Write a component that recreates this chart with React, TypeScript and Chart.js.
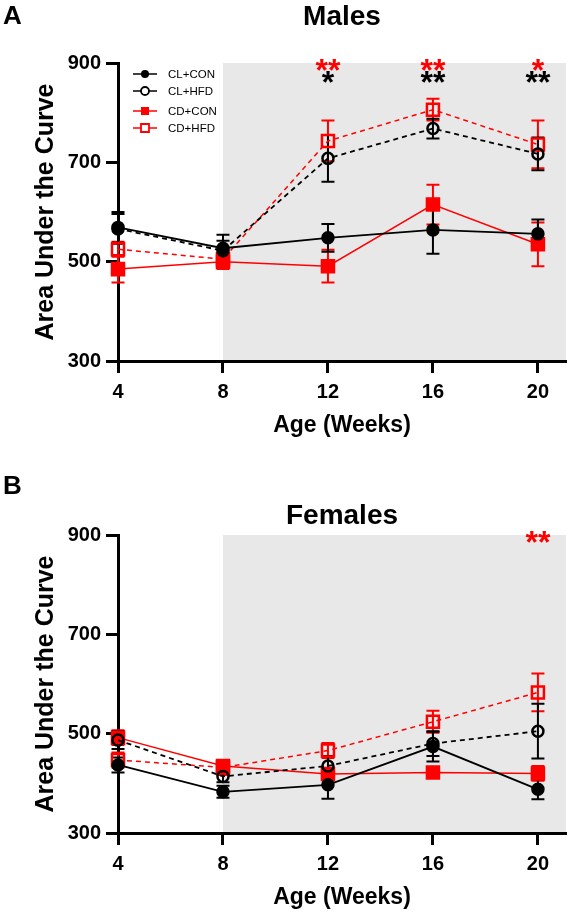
import React, { useEffect, useRef } from "react";
import { Chart, registerables } from "chart.js";

Chart.register(...registerables);

// ---------- data ----------
const weeks = [4, 8, 12, 16, 20];
const xTicks = [4, 8, 12, 16, 20];
const yTicks = [300, 500, 700, 900];
const shadeFromWeek = 8;

const seriesNames = ["CL+CON", "CL+HFD", "CD+CON", "CD+HFD"];
const seriesColors = ["#000000", "#000000", "#ff0000", "#ff0000"];
const seriesFilled = [true, false, true, false];
const seriesDashed = [false, true, false, true];
const seriesShape = ["circle", "circle", "rect", "rect"];

// Males (panel A)
const malesCLCON = [569, 527, 548, 564, 556];
const malesCLCONErr = [31, 27, 28, 48, 29];
const malesCLHFD = [566, 522, 708, 768, 717];
const malesCLHFDErr = [30, 20, 47, 20, 33];
const malesCDCON = [485, 500, 491, 615, 535];
const malesCDCONErr = [27, 15, 33, 40, 44];
const malesCDHFD = [525, 505, 743, 806, 736];
const malesCDHFDErr = [15, 12, 41, 22, 48];

// Females (panel B)
const femalesCLCON = [437, 383, 397, 474, 388];
const femalesCLCONErr = [15, 12, 28, 30, 20];
const femalesCLHFD = [487, 414, 435, 480, 505];
const femalesCLHFDErr = [18, 12, 20, 25, 55];
const femalesCDCON = [492, 435, 419, 422, 420];
const femalesCDCONErr = [15, 12, 10, 8, 15];
const femalesCDHFD = [447, 432, 466, 524, 583];
const femalesCDHFDErr = [15, 15, 15, 22, 38];

// significance marks
const malesStarWeeks = [12, 16, 20];
const malesStarsRed = ["**", "**", "*"];
const malesStarsBlack = ["*", "**", "**"];
const femalesStarWeeks = [20];
const femalesStarsRed = ["**"];
const femalesStarsBlack = [""];

const FONT = '"Liberation Sans", Arial, Helvetica, sans-serif';
const SHADE = "#e8e8e8";

type PanelProps = {
  letter: string;
  title: string;
  means: number[][];
  errs: number[][];
  starWeeks: number[];
  starsRed: string[];
  starsBlack: string[];
  legend: boolean;
  height: number;
  areaTop: number;
  areaBottom: number;
  letterBaseline: number;
  titleBaseline: number;
};

function Panel(p: PanelProps) {
  const ref = useRef<HTMLCanvasElement | null>(null);

  useEffect(() => {
    if (!ref.current) return;
    const H = p.height;

    const plugin = {
      id: "panelDecor",
      beforeDraw(chart: any) {
        const { ctx, chartArea: a, scales } = chart;
        const x0 = scales.x.getPixelForValue(shadeFromWeek);
        ctx.save();
        ctx.fillStyle = SHADE;
        ctx.fillRect(x0, a.top, a.right - x0, a.bottom - a.top);
        ctx.restore();
      },
      beforeDatasetsDraw(chart: any) {
        const { ctx, scales } = chart;
        const xs = scales.x;
        const ys = scales.y;
        ctx.save();
        for (let s = p.means.length - 1; s >= 0; s--) {
          ctx.strokeStyle = seriesColors[s];
          ctx.lineWidth = 2;
          ctx.setLineDash([]);
          weeks.forEach((w, i) => {
            const px = xs.getPixelForValue(w);
            const top = ys.getPixelForValue(p.means[s][i] + p.errs[s][i]);
            const bot = ys.getPixelForValue(p.means[s][i] - p.errs[s][i]);
            ctx.beginPath();
            ctx.moveTo(px, top);
            ctx.lineTo(px, bot);
            ctx.moveTo(px - 6.5, top);
            ctx.lineTo(px + 6.5, top);
            ctx.moveTo(px - 6.5, bot);
            ctx.lineTo(px + 6.5, bot);
            ctx.stroke();
          });
        }
        ctx.restore();
      },
      afterDraw(chart: any) {
        const { ctx, chartArea: a, scales } = chart;
        const xs = scales.x;
        const cx = (a.left + a.right) / 2;
        ctx.save();
        ctx.fillStyle = "#000";
        // panel letter
        ctx.font = `bold 26px ${FONT}`;
        ctx.textAlign = "left";
        ctx.textBaseline = "alphabetic";
        ctx.fillText(p.letter, 3, p.letterBaseline);
        // title
        ctx.font = `bold 28px ${FONT}`;
        ctx.textAlign = "center";
        ctx.fillText(p.title, cx, p.titleBaseline);
        // x title
        ctx.font = `bold 23px ${FONT}`;
        ctx.fillText("Age (Weeks)", cx, a.bottom + 71);
        // y title
        ctx.save();
        ctx.translate(53, (a.top + a.bottom) / 2);
        ctx.rotate(-Math.PI / 2);
        ctx.font = `bold 25px ${FONT}`;
        ctx.textAlign = "center";
        ctx.textBaseline = "alphabetic";
        ctx.fillText("Area Under the Curve", 0, 0);
        ctx.restore();
        // stars
        ctx.font = `bold 32px ${FONT}`;
        ctx.textAlign = "center";
        ctx.textBaseline = "alphabetic";
        p.starWeeks.forEach((w, i) => {
          const px = xs.getPixelForValue(w);
          ctx.fillStyle = "#000";
          if (p.starsBlack[i]) ctx.fillText(p.starsBlack[i], px, a.top + 30);
          ctx.fillStyle = "#ff0000";
          if (p.starsRed[i]) ctx.fillText(p.starsRed[i], px, a.top + 18);
        });
        // legend
        if (p.legend) {
          const rows = [11, 28, 48, 65];
          seriesNames.forEach((name, i) => {
            const y = a.top + rows[i];
            const col = seriesColors[i];
            ctx.strokeStyle = col;
            ctx.fillStyle = col;
            ctx.lineWidth = 1.5;
            ctx.setLineDash([]);
            ctx.beginPath();
            ctx.moveTo(133, y);
            ctx.lineTo(157, y);
            ctx.stroke();
            ctx.lineWidth = 1.8;
            ctx.beginPath();
            if (seriesShape[i] === "circle") {
              ctx.arc(145, y, 4, 0, Math.PI * 2);
            } else {
              ctx.rect(141, y - 4, 8, 8);
            }
            if (seriesFilled[i]) {
              ctx.fill();
            } else {
              ctx.fillStyle = "#fff";
              ctx.fill();
              ctx.stroke();
            }
            ctx.fillStyle = "#000";
            ctx.font = `11.5px ${FONT}`;
            ctx.textAlign = "left";
            ctx.textBaseline = "middle";
            ctx.fillText(name, 168, y + 1);
          });
        }
        ctx.restore();
      },
    };

    const datasets = p.means.map((m, s) => ({
      label: seriesNames[s],
      data: weeks.map((w, i) => ({ x: w, y: m[i] })),
      borderColor: seriesColors[s],
      borderWidth: s < 2 ? 1.8 : 1.5,
      borderDash: seriesDashed[s] ? [5, 4] : [],
      pointStyle: seriesShape[s],
      pointRadius: seriesShape[s] === "circle" ? 5.5 : 8.5,
      pointBorderWidth: 2.5,
      pointBorderColor: seriesColors[s],
      pointBackgroundColor: seriesFilled[s] ? seriesColors[s] : "rgba(0,0,0,0)",
      fill: false,
      tension: 0,
      clip: false as any,
    }));

    const axisCommon = {
      grid: {
        display: true,
        drawOnChartArea: false,
        drawTicks: true,
        tickLength: 12,
        tickWidth: 3,
        tickColor: "#000",
      },
      border: { display: true, color: "#000", width: 3 },
    };

    const chart = new Chart(ref.current, {
      type: "line",
      data: { datasets: datasets as any },
      options: {
        animation: false,
        responsive: false,
        maintainAspectRatio: false,
        devicePixelRatio: 1,
        layout: {
          autoPadding: false,
          padding: { left: 0, right: 4, top: p.areaTop, bottom: 0 },
        },
        plugins: {
          legend: { display: false },
          tooltip: { enabled: false },
          title: { display: false },
        },
        scales: {
          x: {
            type: "linear",
            min: 4,
            max: 21.07,
            afterBuildTicks: (s: any) => {
              s.ticks = xTicks.map((v) => ({ value: v }));
            },
            afterFit: (s: any) => {
              s.height = H - p.areaBottom;
              s.paddingLeft = 0;
              s.paddingRight = 0;
            },
            ticks: {
              color: "#000",
              font: { family: FONT, size: 20, weight: "bold" },
              padding: 7,
              maxRotation: 0,
              autoSkip: false,
            },
            ...axisCommon,
          },
          y: {
            type: "linear",
            min: 300,
            max: 900,
            afterBuildTicks: (s: any) => {
              s.ticks = yTicks.map((v) => ({ value: v }));
            },
            afterFit: (s: any) => {
              s.width = 118;
              s.paddingTop = 0;
              s.paddingBottom = 0;
            },
            ticks: {
              color: "#000",
              font: { family: FONT, size: 20, weight: "bold" },
              padding: 5,
            },
            ...axisCommon,
          },
        },
      } as any,
      plugins: [plugin],
    });

    return () => chart.destroy();
  }, []);

  return (
    <canvas
      ref={ref}
      width={570}
      height={p.height}
      style={{ display: "block", width: 570, height: p.height }}
    />
  );
}

export default function App() {
  return (
    <div
      style={{
        position: "absolute",
        left: 0,
        top: 0,
        width: 570,
        height: 913,
        background: "#fff",
      }}
    >
      <Panel
        letter="A"
        title="Males"
        means={[malesCLCON, malesCLHFD, malesCDCON, malesCDHFD]}
        errs={[malesCLCONErr, malesCLHFDErr, malesCDCONErr, malesCDHFDErr]}
        starWeeks={malesStarWeeks}
        starsRed={malesStarsRed}
        starsBlack={malesStarsBlack}
        legend={true}
        height={450}
        areaTop={63}
        areaBottom={361}
        letterBaseline={24}
        titleBaseline={25}
      />
      <Panel
        letter="B"
        title="Females"
        means={[femalesCLCON, femalesCLHFD, femalesCDCON, femalesCDHFD]}
        errs={[femalesCLCONErr, femalesCLHFDErr, femalesCDCONErr, femalesCDHFDErr]}
        starWeeks={femalesStarWeeks}
        starsRed={femalesStarsRed}
        starsBlack={femalesStarsBlack}
        legend={false}
        height={463}
        areaTop={85}
        areaBottom={383}
        letterBaseline={44}
        titleBaseline={74}
      />
    </div>
  );
}
